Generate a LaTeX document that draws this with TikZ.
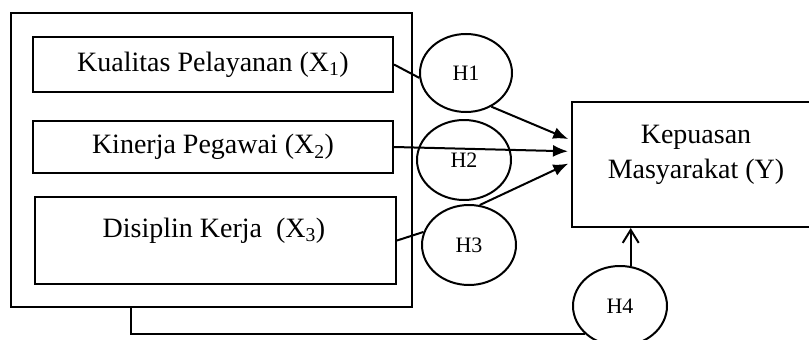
\documentclass[tikz,border=0pt]{standalone}
\usepackage{fontspec}
\setmainfont{Liberation Serif}
\usetikzlibrary{arrows.meta,shapes.geometric}
\begin{document}
\begin{tikzpicture}[x=1pt,y=-1pt,
  line width=2pt,
  box/.style={draw,rectangle,inner sep=0pt,font=\fontsize{28}{35}\selectfont},
  hyp/.style={draw,ellipse,inner sep=0pt,minimum width=94pt,minimum height=80pt,font=\fontsize{22}{26}\selectfont},
  lbl/.style={font=\fontsize{28}{35}\selectfont,align=center,inner sep=0pt},
  arr/.style={-{Latex[length=15pt,width=12pt]},shorten >=3pt},
  openarr/.style={-{Straight Barb[length=13pt,width=16pt,line width=2pt]}}
]
\clip (0,0) rectangle (809,340);
% outer box
\node[box,minimum width=401pt,minimum height=294pt] (outer) at (211.5,160) {};
% inner boxes
\node[box,minimum width=360pt,minimum height=55pt] (b1) at (213,64.5) {Kualitas Pelayanan (X\textsubscript{1})};
\node[box,minimum width=360pt,minimum height=52pt] (b2) at (213,147) {Kinerja Pegawai (X\textsubscript{2})};
\node[box,minimum width=361pt,minimum height=87pt] (b3) at (215.5,240.5) {};
\node[lbl,anchor=base] (t3) at (214,237) {Disiplin Kerja\ \ (X\textsubscript{3})};
% dependent box
\node[box,minimum width=248pt,minimum height=125pt] (Y) at (696,164.5) {};
\node[lbl] (ty) at (696,155) {Kepuasan\\Masyarakat (Y)};
% hypotheses
\node[hyp,minimum width=92pt,minimum height=78pt] (H1) at (466,73) {H1};
\node[hyp] (H2) at (464,160) {H2};
\node[hyp] (H3) at (469,245) {H3};
\node[hyp] (H4) at (620,306) {H4};
% connectors
\draw (b1.east) -- (H1.186);
\draw[arr] (H1.-53) -- (Y.169);
\draw[arr] (b2.east) -- (Y.174);
\draw (b3.east) -- (H3.164);
\draw[arr] (H3.75) -- (Y.179);
\draw[openarr] (H4.75) -- (H4.75 |- Y.south);
\coordinate (fb) at (131,307);
\draw (fb) |- (H4.219);
\end{tikzpicture}
\end{document}
